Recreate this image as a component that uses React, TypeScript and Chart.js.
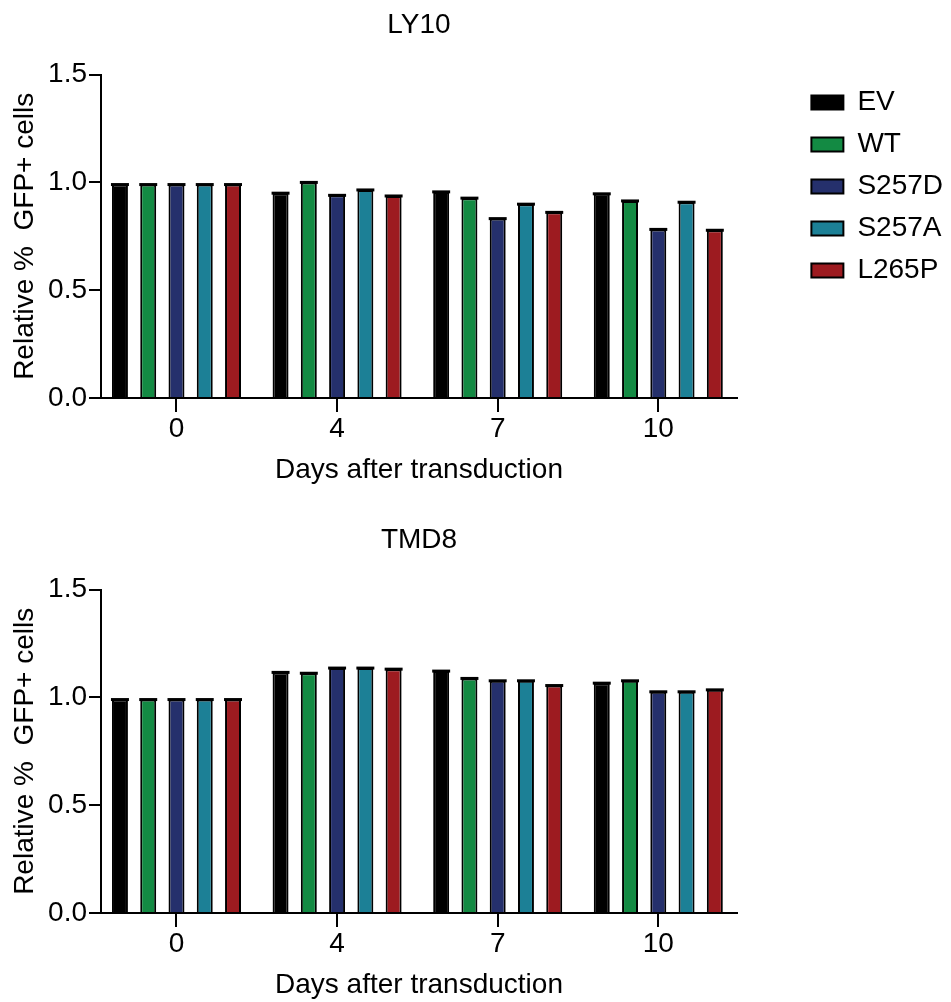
import React, { useEffect, useRef } from "react";
import { Chart, registerables } from "chart.js";

Chart.register(...registerables);

// ---------- data ----------
const DAYS = ["0", "4", "7", "10"];
const SERIES = ["EV", "WT", "S257D", "S257A", "L265P"];
const COLORS = ["#000000", "#138a43", "#25306c", "#1c8096", "#9d1b20"];
const Y_TICKS = [0, 0.5, 1.0, 1.5];

const LY10_EV = [0.99, 0.95, 0.956, 0.947];
const LY10_WT = [0.99, 1.0, 0.927, 0.914];
const LY10_S257D = [0.99, 0.94, 0.832, 0.782];
const LY10_S257A = [0.99, 0.965, 0.899, 0.908];
const LY10_L265P = [0.99, 0.937, 0.861, 0.778];

const TMD8_EV = [0.99, 1.116, 1.122, 1.066];
const TMD8_WT = [0.99, 1.112, 1.088, 1.077];
const TMD8_S257D = [0.99, 1.136, 1.077, 1.026];
const TMD8_S257A = [0.99, 1.136, 1.077, 1.026];
const TMD8_L265P = [0.99, 1.131, 1.055, 1.035];

const LY10 = [LY10_EV, LY10_WT, LY10_S257D, LY10_S257A, LY10_L265P];
const TMD8 = [TMD8_EV, TMD8_WT, TMD8_S257D, TMD8_S257A, TMD8_L265P];

// ---------- layout constants ----------
const W = 951;
const H = 487;
const PLOT_LEFT = 101;
const PLOT_RIGHT = 737;
const PLOT_BOTTOM = 398;
const LEGEND_RIGHT_PAD = -2;
const FONT = "'Liberation Sans', Arial, Helvetica, sans-serif";
const FS = 28;

Chart.defaults.font.family = FONT;
Chart.defaults.color = "#000";

const capPlugin = {
  id: "barCaps",
  afterDatasetsDraw(chart: any) {
    const ctx = chart.ctx;
    ctx.save();
    ctx.strokeStyle = "#000";
    ctx.lineWidth = 3;
    chart.data.datasets.forEach((_: any, di: number) => {
      const meta = chart.getDatasetMeta(di);
      meta.data.forEach((bar: any) => {
        const { x, y, width } = bar.getProps(["x", "y", "width"], true);
        ctx.beginPath();
        ctx.moveTo(x - width / 2 - 1, y);
        ctx.lineTo(x + width / 2 + 1, y);
        ctx.stroke();
      });
    });
    ctx.restore();
  },
};

function buildConfig(title: string, values: number[][], showLegend: boolean): any {
  const datasets = SERIES.map((name, s) => ({
    label: name,
    data: values[s].map((v, i) => ({ x: i, y: v })),
    backgroundColor: COLORS[s],
    borderColor: "#000",
    borderWidth: 2,
    borderSkipped: "start",
    categoryPercentage: 0.88,
    barPercentage: 0.565,
  }));

  const scales: any = {
    x: {
      type: "linear",
      min: -0.47,
      max: 3.49,
      offset: false,
      afterBuildTicks: (s: any) => {
        s.ticks = DAYS.map((_, i) => ({ value: i }));
      },
      ticks: {
        callback: (v: any) => DAYS[v] ?? "",
        font: { size: FS },
        color: "#000",
        padding: 0,
        autoSkip: false,
        maxRotation: 0,
        includeBounds: false,
      },
      grid: {
        offset: false,
        drawOnChartArea: false,
        drawTicks: true,
        tickLength: 14,
        color: "#000",
        lineWidth: 2,
      },
      border: { display: true, color: "#000", width: 2 },
      title: {
        display: true,
        text: "Days after transduction",
        font: { size: FS },
        color: "#000",
        padding: { top: 0, bottom: 0 },
      },
      afterFit: (s: any) => {
        s.height = H - PLOT_BOTTOM;
      },
    },
    y: {
      min: 0,
      max: 1.5,
      afterBuildTicks: (s: any) => {
        s.ticks = Y_TICKS.map((v) => ({ value: v }));
      },
      ticks: {
        callback: (v: any) => Number(v).toFixed(1),
        font: { size: FS },
        color: "#000",
        padding: 2,
      },
      grid: {
        drawOnChartArea: false,
        drawTicks: true,
        tickLength: 12,
        color: "#000",
        lineWidth: 2,
      },
      border: { display: true, color: "#000", width: 2 },
      title: {
        display: true,
        text: "Relative %  GFP+ cells",
        font: { size: FS },
        color: "#000",
        padding: { top: 8, bottom: 0 },
      },
      afterFit: (s: any) => {
        s.width = PLOT_LEFT;
      },
    },
  };

  if (showLegend) {
    scales.spacer = {
      type: "linear",
      position: "right",
      display: true,
      grid: { display: false },
      border: { display: false },
      ticks: { display: false },
      afterFit: (s: any) => {
        const lg = s.chart.legend;
        const lw = lg && lg.width ? lg.width : 0;
        s.width = Math.max(0, W - LEGEND_RIGHT_PAD - PLOT_RIGHT - lw);
      },
    };
  }

  return {
    type: "bar",
    data: { datasets },
    plugins: [capPlugin],
    options: {
      responsive: false,
      animation: false,
      devicePixelRatio: 1,
      layout: {
        padding: { left: 0, top: 0, bottom: 0, right: showLegend ? LEGEND_RIGHT_PAD : W - PLOT_RIGHT },
      },
      scales,
      plugins: {
        tooltip: { enabled: false },
        title: {
          display: true,
          text: title,
          font: { size: FS, weight: "normal" },
          color: "#000",
          padding: { top: 8, bottom: 33 },
          fullSize: false,
        },
        legend: {
          display: showLegend,
          position: "right",
          align: "start",
          fullSize: false,
          labels: {
            font: { size: FS },
            color: "#000",
            boxWidth: 32,
            boxHeight: 14,
            padding: 14,
          },
        },
      },
    },
  };
}

function Panel({ title, values, legend, top }: { title: string; values: number[][]; legend: boolean; top: number }) {
  const ref = useRef<HTMLCanvasElement | null>(null);
  useEffect(() => {
    if (!ref.current) return;
    const chart = new Chart(ref.current, buildConfig(title, values, legend));
    return () => chart.destroy();
  }, [title, values, legend]);
  return (
    <div style={{ position: "absolute", left: 0, top, width: W, height: H }}>
      <canvas ref={ref} width={W} height={H} style={{ display: "block", width: W, height: H }} />
    </div>
  );
}

export default function App() {
  return (
    <div style={{ position: "absolute", left: 0, top: 0, width: W, height: 1002, background: "#fff" }}>
      <Panel title="LY10" values={LY10} legend={true} top={0} />
      <Panel title="TMD8" values={TMD8} legend={false} top={515} />
    </div>
  );
}
